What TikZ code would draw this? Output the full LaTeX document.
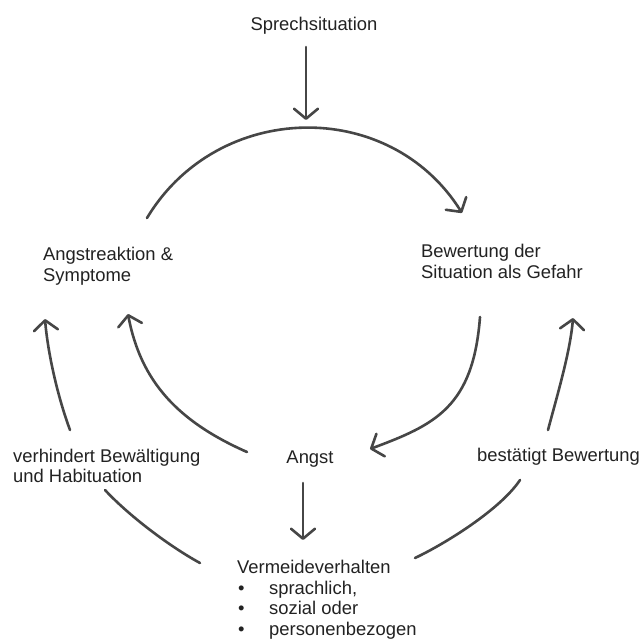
\documentclass[tikz,border=0pt]{standalone}
\usepackage{fontspec}
\setmainfont{Liberation Sans}
\usetikzlibrary{arrows.meta}
\definecolor{txtc}{RGB}{34,34,34}
\definecolor{linec}{RGB}{70,70,70}
\tikzset{
  lbl/.style={inner sep=0pt, text=txtc, font=\fontsize{18.4}{20.8}\selectfont, align=left},
  conn/.style={draw=linec, line width=2.6pt, line cap=round},
  arr/.style={conn, -{Straight Barb[length=10pt,width=24pt,line cap=round,line join=round]}}
}
\begin{document}
\begin{tikzpicture}[x=1pt,y=-1pt]
\path[use as bounding box, fill=white] (0,0) rectangle (639,639);

% text nodes
\node[lbl, anchor=base] (sprech) at (314,30.5) {Sprechsituation};
\node[lbl, anchor=north west] (reakt) at (43,247) {Angstreaktion \&\\Symptome};
\node[lbl, anchor=north west] (bewert) at (421,244) {Bewertung der\\Situation als Gefahr};
\node[lbl, anchor=north west] (verh) at (13,448.5) {verhindert Bewältigung\\und Habituation};
\node[lbl, anchor=base] (angst) at (310,463.5) {Angst};
\node[lbl, anchor=base west] (best) at (477,461) {bestätigt Bewertung};
\node[lbl, anchor=north west, font=\fontsize{18.4}{20.5}\selectfont] (verm) at (237,560)
  {Vermeideverhalten\\
   \makebox[32pt][l]{\hspace{1pt}\textbullet}sprachlich,\\
   \makebox[32pt][l]{\hspace{1pt}\textbullet}sozial oder\\
   \makebox[32pt][l]{\hspace{1pt}\textbullet}personenbezogen};

% connector end points
\coordinate (s1) at (306,47);
\coordinate (s2) at (306,120);
\coordinate (t1) at (147,218);
\coordinate (t2) at (462,213);
\coordinate (r1) at (480,317);
\coordinate (r2) at (370,449);
\coordinate (l1) at (247,452);
\coordinate (l2) at (128,314);
\coordinate (lo1) at (70,430);
\coordinate (lo2) at (45,319);
\coordinate (ro1) at (548,430);
\coordinate (ro2) at (573,318);
\coordinate (a1) at (303,483);
\coordinate (a2) at (303,540);
\coordinate (bl1) at (200,563);
\coordinate (bl2) at (105,490);
\coordinate (br1) at (415,558);
\coordinate (br2) at (520,480);

% connectors
\draw[arr] (s1) -- (s2);
\draw[arr] (t1) .. controls (217.6,100.6) and (389.4,96.8) .. (t2);
\draw[arr] (r1) .. controls (473.2,407) and (435.1,424.8) .. (r2);
\draw[arr] (l1) .. controls (178.4,421.7) and (140.7,381.8) .. (l2);
\draw[arr] (lo1) .. controls (57.75,397) and (47.8,353) .. (lo2);
\draw[arr] (ro1) .. controls (557,396) and (570.2,352) .. (ro2);
\draw[arr] (a1) -- (a2);
\draw[conn] (bl1) .. controls (169.2,546.2) and (128.8,515.6) .. (bl2);
\draw[conn] (br1) .. controls (446.5,543) and (500.75,509) .. (br2);
\end{tikzpicture}
\end{document}
